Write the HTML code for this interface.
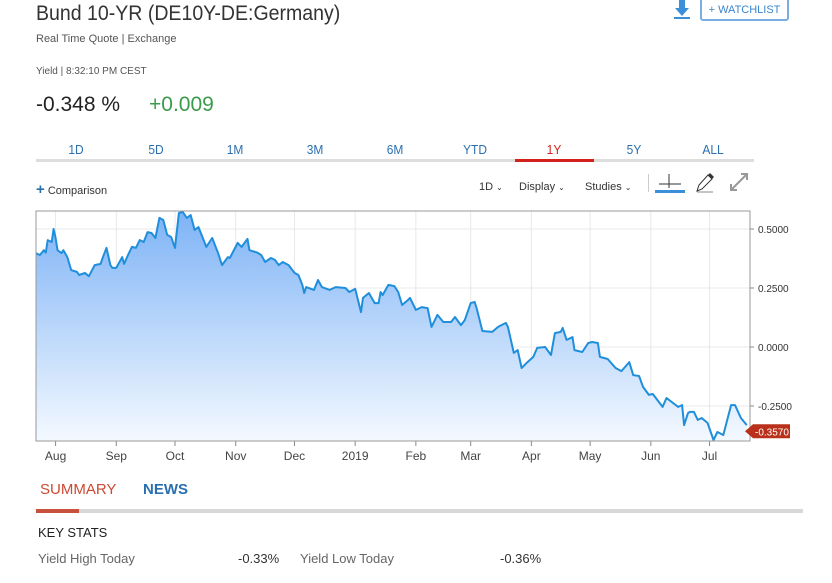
<!DOCTYPE html>
<html><head><meta charset="utf-8">
<style>
*{margin:0;padding:0;box-sizing:border-box}
body{width:832px;height:583px;background:#fff;font-family:"Liberation Sans",sans-serif;position:relative;overflow:hidden;color:#222}
.a{position:absolute;white-space:nowrap}
.tab{position:absolute;top:142px;font-size:13px;color:#2a6fb0;width:80px;text-align:center;transform:scaleX(.92)}
.tool{font-size:11px;color:#333}
</style></head><body>
<div class="a" style="left:36px;top:2px;font-size:21px;color:#333;transform-origin:left;transform:scaleX(.93)">Bund 10-YR (DE10Y-DE:Germany)</div>
<div class="a" style="left:672px;top:0;width:20px;height:20px">
<svg width="20" height="20"><path d="M7 0h6v8h4l-7 8-7-8h4z" fill="#3b8fd8"/><rect x="2" y="17" width="16" height="2" fill="#3b8fd8"/></svg></div>
<div class="a" style="left:700px;top:-3px;width:89px;height:24px;border:2px solid #7aaee0;border-radius:3px;color:#3b86cc;font-size:11px;text-align:center;line-height:22px">+ WATCHLIST</div>
<div class="a" style="left:36px;top:33px;font-size:11px;color:#555">Real Time Quote | Exchange</div>
<div class="a" style="left:36px;top:66px;font-size:10px;color:#555">Yield | 8:32:10 PM CEST</div>
<div class="a" style="left:36px;top:93px;font-size:21px;color:#222">-0.348 %</div>
<div class="a" style="left:149px;top:93px;font-size:21px;color:#3c9a4c">+0.009</div>
<div class="a" style="left:36px;top:159px;width:718px;height:3px;background:#ddd"></div>
<div class="a" style="left:515px;top:159px;width:79px;height:3px;background:#d3221c"></div>
<div class="tab" style="left:36px">1D</div>
<div class="tab" style="left:116px">5D</div>
<div class="tab" style="left:195px">1M</div>
<div class="tab" style="left:275px">3M</div>
<div class="tab" style="left:355px">6M</div>
<div class="tab" style="left:435px">YTD</div>
<div class="tab" style="left:514px;color:#d3221c">1Y</div>
<div class="tab" style="left:594px">5Y</div>
<div class="tab" style="left:673px">ALL</div>
<div class="a tool" style="left:36px;top:181px"><span style="color:#2a6fb0;font-size:15px;font-weight:bold">+</span> Comparison</div>
<div class="a tool" style="left:479px;top:181px">1D <span style="font-size:8px">⌄</span></div>
<div class="a tool" style="left:519px;top:181px">Display <span style="font-size:8px">⌄</span></div>
<div class="a tool" style="left:585px;top:181px">Studies <span style="font-size:8px">⌄</span></div>
<div class="a" style="left:648px;top:174px;width:1px;height:18px;background:#ccc"></div>
<div class="a" style="left:654px;top:172px"><svg width="32" height="22"><path d="M15 2v14M5 12h22" stroke="#333" stroke-width="1"/><rect x="1" y="18" width="30" height="3" fill="#3b8fd8"/></svg></div>
<div class="a" style="left:694px;top:172px"><svg width="22" height="22"><path d="M3 19l2-6 9-10 4 4-10 10z" fill="none" stroke="#333"/><path d="M14 3l4 4 2-2-4-4z" fill="#333"/><path d="M3 20h16" stroke="#888"/></svg></div>
<div class="a" style="left:728px;top:171px"><svg width="22" height="22"><path d="M3 19L19 3M13 3h6v6M3 13v6h6" stroke="#999" stroke-width="2" fill="none"/></svg></div>

<svg class="a" id="chart" style="left:0;top:0" width="832" height="470"></svg>

<div class="a" style="left:40px;top:481px;font-size:15px;color:#cc4a32">SUMMARY</div>
<div class="a" style="left:143px;top:481px;font-size:15px;color:#2a6fb0;font-weight:bold">NEWS</div>
<div class="a" style="left:36px;top:509px;width:767px;height:4px;background:#d8d8d8"></div>
<div class="a" style="left:36px;top:509px;width:43px;height:4px;background:#c8513d"></div>
<div class="a" style="left:38px;top:525px;font-size:13px;color:#222">KEY STATS</div>
<div class="a" style="left:38px;top:551px;font-size:13px;color:#666">Yield High Today</div>
<div class="a" style="left:238px;top:551px;font-size:13px;color:#333">-0.33%</div>
<div class="a" style="left:300px;top:551px;font-size:13px;color:#666">Yield Low Today</div>
<div class="a" style="left:500px;top:551px;font-size:13px;color:#333">-0.36%</div>

<script>
const days=[0,2,4,5,6,8,9,10,11,13,14,16,18,21,22,25,27,30,33,34,36,38,39,41,44,45,47,49,51,53,55,57,59,61,63,65,67,69,71,73,75,77,79,81,83,87,90,93,95,98,99,103,105,108,109,113,115,117,120,122,124,126,129,132,134,136,137,138,142,144,146,150,153,158,160,163,166,167,170,173,175,176,177,180,183,185,187,190,191,194,197,200,202,205,208,212,214,217,219,222,224,225,228,233,236,240,241,244,246,248,251,254,256,260,263,265,268,269,271,274,275,279,282,284,287,288,292,296,299,303,305,308,310,313,315,320,322,328,330,331,333,334,336,338,340,343,346,348,351,355,357,360,363];
const yields=[.397,.39,.41,.40,.453,.445,.50,.462,.41,.398,.41,.381,.326,.318,.305,.314,.30,.347,.352,.377,.42,.347,.335,.335,.381,.352,.39,.424,.42,.453,.445,.487,.483,.462,.547,.538,.475,.466,.42,.568,.572,.547,.559,.496,.508,.424,.462,.398,.347,.381,.377,.441,.424,.458,.41,.40,.39,.36,.377,.369,.347,.36,.347,.314,.305,.263,.229,.254,.242,.284,.254,.242,.254,.25,.233,.246,.148,.208,.229,.186,.186,.233,.22,.263,.258,.233,.178,.199,.208,.157,.169,.165,.085,.136,.106,.106,.127,.093,.114,.186,.191,.165,.068,.064,.085,.102,.085,-.025,-.013,-.089,-.064,-.042,-.004,0,-.034,.059,.064,.081,.03,.042,-.013,-.021,.017,.021,.017,-.042,-.051,-.089,-.102,-.064,-.119,-.123,-.169,-.203,-.199,-.254,-.216,-.254,-.246,-.331,-.28,-.275,-.275,-.309,-.301,-.322,-.394,-.36,-.373,-.246,-.246,-.301,-.331];
const monthLabels=["Aug","Sep","Oct","Nov","Dec","2019","Feb","Mar","Apr","May","Jun","Jul"];
const monthDays=[10,41,71,102,132,163,194,222,253,283,314,344];
const yTicks=[0.5,0.25,0,-0.25];
const lastValue=-0.357;

const svg=document.getElementById('chart');
const NS='http://www.w3.org/2000/svg';
const L=36,R=750,T=211,B=441;
const xs=d=>L+d*1.958;
const ys=v=>347-v*236;
function mk(tag,attrs){const e=document.createElementNS(NS,tag);for(const k in attrs)e.setAttribute(k,attrs[k]);svg.appendChild(e);return e;}
const defs=mk('defs',{});
defs.innerHTML='<linearGradient id="g" x1="0" y1="0" x2="0" y2="1"><stop offset="0" stop-color="#7eb3f6"/><stop offset="1" stop-color="#f4f9ff"/></linearGradient>';
yTicks.forEach(v=>{
 const l=mk('line',{x1:L,x2:R,y1:ys(v),y2:ys(v),stroke:'#e8e8e8'});
 
 
 const tk=mk('line',{x1:R,x2:R+4,y1:ys(v),y2:ys(v),stroke:'#888'});
 
 
 const t=mk('text',{x:R+8,y:ys(v)+4,'font-size':'10','fill':'#333','font-family':'Liberation Sans, sans-serif'});
 t.textContent=v.toFixed(4);
 
 
});
monthDays.forEach((d,i)=>{
 const l=mk('line',{x1:xs(d),x2:xs(d),y1:T,y2:B,stroke:'#e8e8e8'});
 
 
 const tk=mk('line',{x1:xs(d),x2:xs(d),y1:B,y2:B+5,stroke:'#888'});
 
 
 const t=mk('text',{x:xs(d),y:B+19,'font-size':'12','fill':'#444','text-anchor':'middle','font-family':'Liberation Sans, sans-serif'});
 t.textContent=monthLabels[i];
 
 
});
let pts=days.map((d,i)=>xs(d).toFixed(1)+','+ys(yields[i]).toFixed(1));
const area=mk('polygon',{points:pts.join(' ')+' '+xs(days[days.length-1])+','+B+' '+xs(days[0])+','+B,fill:'url(#g)'});


const line=mk('polyline',{points:pts.join(' '),fill:'none',stroke:'#1f8fdc','stroke-width':'2','stroke-linejoin':'round'});


const frame=mk('path',{d:`M${L},${T}H${R}V${B}H${L}Z`,fill:'none',stroke:'#999'});


const by=ys(lastValue);
const badge=mk('path',{d:`M${R-5},${by} L${R+3},${by-7} H${R+40} V${by+7} H${R+3} Z`,fill:'#b9301b'});


const bt=mk('text',{x:R+5,y:by+4,'font-size':'10','fill':'#fff','font-family':'Liberation Sans, sans-serif'});
bt.textContent=lastValue.toFixed(4);


</script>
</body></html>
